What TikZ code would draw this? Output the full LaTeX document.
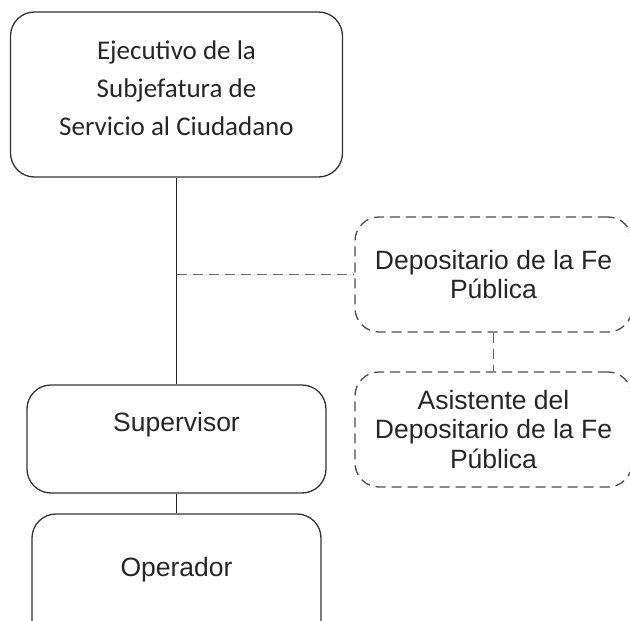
\documentclass[tikz,border=0pt]{standalone}
\usepackage{fontspec}
\setmainfont{Liberation Sans}
\newfontfamily\calibrifont{Carlito}
\begin{document}
\begin{tikzpicture}[x=1pt,y=-1pt,
  caja/.style={draw=black!80,line width=1.3pt,rounded corners=24pt,inner sep=0pt,
    align=center,text=black!85,font=\fontsize{26.5}{29.5}\selectfont},
  cajapunt/.style={caja,draw=black!70,dash pattern=on 10pt off 6pt},
  linea/.style={draw=black!85,line width=1.3pt},
  lineapunt/.style={draw=black!60,line width=1.3pt,dash pattern=on 10pt off 6pt}]
  \useasboundingbox (0,0) rectangle (630,621);
  \clip (0,0) rectangle (630,621);
  % cajas
  \node[caja,minimum width=332pt,text height=123pt,text depth=42pt,
    font=\calibrifont\fontsize{27}{38}\selectfont] (ejec) at (176.5,94.5)
    {Ejecutivo de la\\Subjefatura de\\Servicio al Ciudadano};
  \node[caja,minimum width=299pt,text height=46pt,text depth=62pt] (super) at (176.5,439) {Supervisor};
  \node[caja,minimum width=289pt,text height=62pt,text depth=70pt] (oper) at (176.5,580) {Operador};
  \node[cajapunt,minimum width=277pt,minimum height=115pt] (depo) at (493.5,274.5)
    {Depositario de la Fe\\P\'ublica};
  \node[cajapunt,minimum width=277pt,minimum height=115pt] (asis) at (493.5,429.5)
    {Asistente del\\Depositario de la Fe\\P\'ublica};
  % lineas
  \draw[linea] (ejec.south) -- (super.north);
  \draw[linea] (super.south) -- (oper.north);
  \draw[lineapunt] (ejec.south |- depo.west) -- (depo.west);
  \draw[lineapunt] (depo.south) -- (asis.north);
\end{tikzpicture}
\end{document}
